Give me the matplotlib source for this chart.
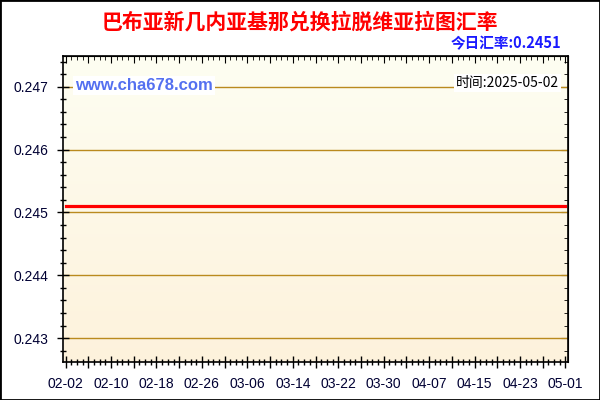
import pandas as pd
import numpy as np
import matplotlib.pyplot as plt
import matplotlib.dates as mdates
from matplotlib.colors import LinearSegmentedColormap
from matplotlib.patches import Rectangle

plt.rcParams['font.family'] = ['Liberation Sans', 'Noto Sans CJK SC']

# 数据
title = '巴布亚新几内亚基那兑换拉脱维亚拉图汇率'
today_rate = '今日汇率:0.2451'
date_text = '时间:2025-05-02'
site = 'www.cha678.com'
dates = pd.date_range('2025-02-02', '2025-05-01', freq='D')
rates = [0.2451] * len(dates)
yticks = [0.243, 0.244, 0.245, 0.246, 0.247]

fig = plt.figure(figsize=(6, 4), dpi=100)
ax = fig.add_axes([0.1055, 0.095, 0.8412, 0.765])

# 背景渐变
cmap = LinearSegmentedColormap.from_list('bg', ['#FDF2DC', '#FEFEF2'])
grad = np.linspace(0, 1, 256).reshape(-1, 1)
ax.imshow(grad, extent=[0, 1, 0, 1], transform=ax.transAxes, aspect='auto',
          origin='lower', cmap=cmap, zorder=0)

for y in yticks:
    ax.axhline(y, color='#BA8A1E', lw=1, zorder=1)

ax.plot(dates, rates, color='#FF0000', lw=2.3, zorder=3)

x0 = mdates.date2num(dates[0])
x1 = mdates.date2num(dates[-1])
ax.set_xlim(x0 - 0.4, x1 + 0.45)
ax.set_ylim(0.24262, 0.24749)

major_x = [mdates.date2num(d) for d in dates[::4]]
labels_x = [d.strftime('%m-%d') if i % 2 == 0 else '' for i, d in enumerate(dates[::4])]
ax.set_xticks(major_x)
ax.set_xticklabels(labels_x)
ax.set_xticks([mdates.date2num(d) for d in dates], minor=True)
ax.set_yticks(yticks)
ax.set_yticklabels([f'{v:.3f}' for v in yticks])
ax.set_yticks(np.arange(0.2428, 0.2475, 0.0002), minor=True)

ax.tick_params(axis='both', which='major', direction='inout', length=8, width=1,
               labelsize=10, labelcolor='#000033')
ax.tick_params(axis='both', which='minor', direction='inout', length=5, width=1)
ax.tick_params(axis='x', which='major', pad=7)
ax.tick_params(axis='y', which='major', pad=7)

for s in ax.spines.values():
    s.set_linewidth(1.2)
    s.set_zorder(4)

# 上边和右边的刻度
top = ax.secondary_xaxis('top')
top.set_xticks(major_x)
top.set_xticks([mdates.date2num(d) for d in dates], minor=True)
top.tick_params(which='major', direction='in', length=5, labeltop=False)
top.tick_params(which='minor', direction='in', length=3)
top.set_xticklabels([])
right = ax.secondary_yaxis('right')
right.set_yticks(yticks)
right.set_yticks(np.arange(0.2428, 0.2475, 0.0002), minor=True)
right.tick_params(which='major', direction='in', length=5)
right.tick_params(which='minor', direction='in', length=3)
right.set_yticklabels([])

fig.text(0.5, 0.945, title, ha='center', va='center', color='#FF0000',
         fontsize=15, fontweight='bold', family=['Noto Sans CJK SC'])
fig.text(0.935, 0.893, today_rate, ha='right', va='center', color='#1A1AFF',
         fontsize=10.5, fontweight='bold', family=['Noto Sans CJK SC', 'Liberation Sans'])
ax.text(0.023, 0.905, site, transform=ax.transAxes, ha='left', va='center',
        color='#5470F0', fontsize=12, fontweight='bold', zorder=5,
        bbox=dict(facecolor='white', edgecolor='none', pad=1.5))
ax.text(0.982, 0.912, date_text, transform=ax.transAxes, ha='right', va='center',
        color='#000000', fontsize=10, zorder=5, family=['Noto Sans CJK SC'],
        bbox=dict(facecolor='white', edgecolor='none', pad=1.5))

fig.patches.append(Rectangle((0, 0), 1, 1, transform=fig.transFigure, fill=False,
                             edgecolor='black', lw=2, zorder=10))

fig.savefig('out.png', dpi=100)
